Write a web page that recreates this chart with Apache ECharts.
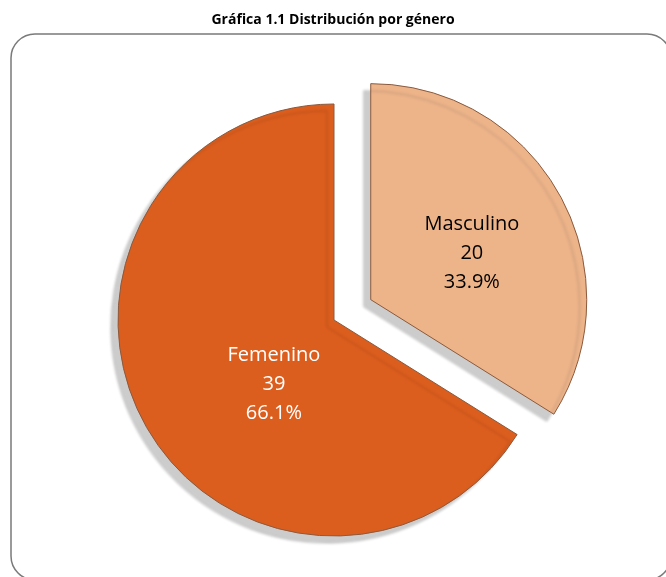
<!DOCTYPE html>
<html>
<head>
<meta charset="utf-8">
<script src="https://cdn.jsdelivr.net/npm/echarts@6/dist/echarts.min.js"></script>
<style>
html,body{margin:0;padding:0;background:#fff;}
#chart{width:666px;height:577px;}
</style>
</head>
<body>
<div id="chart"></div>
<script>
const titleText = 'Gráfica 1.1 Distribución por género';
const categories = ['Masculino', 'Femenino'];
const values = [20, 39];
const colors = ['#EDB48A', '#DC5E1E'];
const labelColors = ['#000000', '#FFFFFF'];
const labelShift = [[4, 7], [37, 11]];

const chart = echarts.init(document.getElementById('chart'), null, {renderer: 'canvas'});
chart.setOption({
  animation: false,
  backgroundColor: '#ffffff',
  title: {
    text: titleText,
    left: 'center',
    top: 8,
    textStyle: {fontFamily: 'Open Sans', fontWeight: 'bold', fontSize: 14, color: '#000'}
  },
  graphic: [{
    type: 'rect',
    shape: {x: 11, y: 34, width: 660, height: 546, r: 24},
    style: {fill: 'none', stroke: '#7a7a7a', lineWidth: 1.5},
    silent: true,
    z: -1
  }],
  series: [{
    type: 'pie',
    center: [334, 320],
    radius: 216,
    startAngle: 90,
    clockwise: true,
    selectedMode: 'single',
    selectedOffset: 42,
    percentPrecision: 1,
    emphasis: {disabled: true},
    label: {
      show: true,
      position: 'inside',
      formatter: '{b}\n{c}\n{d}%',
      fontFamily: 'Open Sans',
      fontSize: 20,
      lineHeight: 29
    },
    labelLayout: function (p) {
      const s = labelShift[p.dataIndex];
      return {dx: s[0], dy: s[1]};
    },
    itemStyle: {
      borderColor: '#8a5a3e',
      borderWidth: 1,
      shadowColor: 'rgba(0,0,0,0.2)',
      shadowBlur: 3,
      shadowOffsetX: -7,
      shadowOffsetY: 7
    },
    data: categories.map((c, i) => ({
      name: c,
      value: values[i],
      selected: i === 0,
      itemStyle: {color: colors[i]},
      label: {color: labelColors[i]}
    }))
  }]
});
</script>
</body>
</html>
